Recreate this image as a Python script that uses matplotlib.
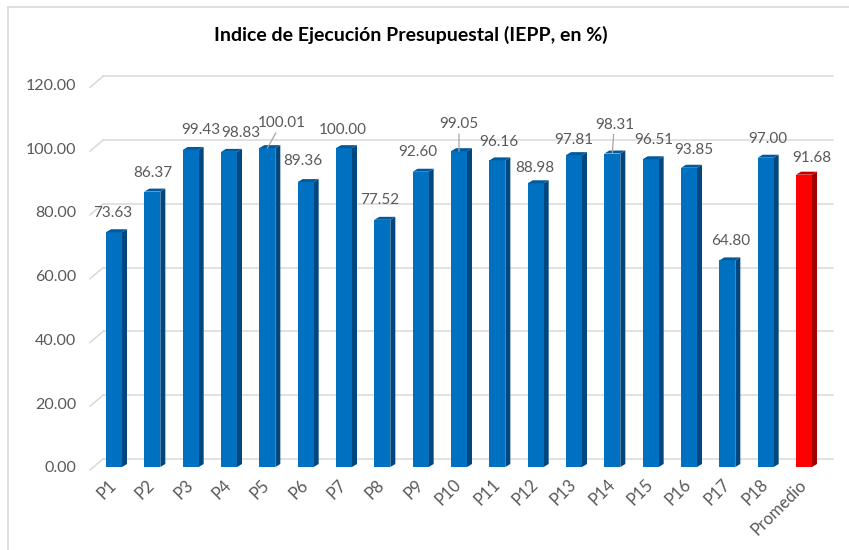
import matplotlib
matplotlib.use("Agg")
import matplotlib.pyplot as plt
from matplotlib.patches import Polygon
from matplotlib.lines import Line2D

plt.rcParams["font.family"] = ["Lato", "DejaVu Sans"]

# --- données ---
categories = ["P1", "P2", "P3", "P4", "P5", "P6", "P7", "P8", "P9", "P10",
              "P11", "P12", "P13", "P14", "P15", "P16", "P17", "P18", "Promedio"]
values = [73.63, 86.37, 99.43, 98.83, 100.01, 89.36, 100.00, 77.52, 92.60, 99.05,
          96.16, 88.98, 97.81, 98.31, 96.51, 93.85, 64.80, 97.00, 91.68]
y_ticks = [0, 20, 40, 60, 80, 100, 120]

# décalage des étiquettes (pixels) : dx, hauteur au-dessus de la barre
label_dx = [-1, 0, 10, 12, 14, -3, -1, -3, -3, 0, 1, -1, 0, 2, 3, 5, 3, 2, 8]
label_dy = [19, 19, 20, 19, 25, 21, 18, 20, 20, 27, 18, 15, 15, 29, 19, 18, 19, 19, 17]
leaders = {"P5", "P10", "P14"}

W, H = 849, 550
fig = plt.figure(figsize=(W / 100, H / 100), dpi=100)

# cadre gris (gauche + haut)
fig.add_artist(Line2D([8 / W, 8 / W], [0, 1 - 7 / H], color="#d9d9d9", lw=1.2))
fig.add_artist(Line2D([8 / W, 1], [1 - 7 / H, 1 - 7 / H], color="#d9d9d9", lw=1.2))

left, right, bottom, top = 90, 833, 467, 78
ax = fig.add_axes([left / W, (H - bottom) / H, (right - left) / W, (bottom - top) / H])

step = 38.33
x0 = -(114 - left) / step
x1 = len(categories) - 1 + (right - 804) / step
ymax = 122
ax.set_xlim(x0, x1)
ax.set_ylim(0, ymax)
ypp = ymax / (bottom - top)   # unités y par pixel
xpp = 1 / step                # unités x par pixel
xb = (103 - 114) / step       # début du mur du fond

# grille 3D (mur du fond + petite diagonale)
for v in y_ticks:
    ax.plot([xb, x1], [v + 8 * ypp, v + 8 * ypp], color="#d9d9d9", lw=1.1,
            clip_on=False, zorder=0)
    ax.plot([x0, xb], [v - 3 * ypp, v + 8 * ypp], color="#d9d9d9", lw=1.1,
            clip_on=False, zorder=0)

# barres pseudo-3D
bw = 0.417
dx, dy = 5 * xpp, 3 * ypp
for i, (cat, v) in enumerate(zip(categories, values)):
    if cat == "Promedio":
        front, side, topc = "#ff0000", "#a50000", "#c00000"
    else:
        front, side, topc = "#0070c0", "#00477f", "#005a9c"
    xl, xr = i - bw / 2, i + bw / 2
    ax.bar(i, v, width=bw, color=front, edgecolor="none", zorder=3)
    ax.add_patch(Polygon([(xr, 0), (xr + dx, dy), (xr + dx, v + dy), (xr, v)],
                         closed=True, color=side, lw=0, zorder=2))
    ax.add_patch(Polygon([(xl, v), (xr, v), (xr + dx, v + dy), (xl + dx, v + dy)],
                         closed=True, color=topc, lw=0, zorder=3))

    arrow = None
    if cat in leaders:
        arrow = dict(arrowstyle="-", color="#a6a6a6", lw=0.9, shrinkA=0, shrinkB=0)
    ax.annotate(f"{v:.2f}", xy=(i, v), xytext=(label_dx[i], label_dy[i]),
                textcoords="offset pixels", ha="center", va="center",
                fontsize=11, color="#595959", arrowprops=arrow, zorder=4)

# axes
ax.set_yticks(y_ticks)
ax.set_yticklabels([f"{t:.2f}" for t in y_ticks], fontsize=11.5, color="#595959")
ax.set_xticks(range(len(categories)))
ax.set_xticklabels(categories, rotation=45, ha="right", va="center",
                   rotation_mode="anchor", fontsize=12, color="#595959")
ax.tick_params(axis="y", length=0, pad=10)
ax.tick_params(axis="x", length=0, pad=11)
for s in ax.spines.values():
    s.set_visible(False)
ax.patch.set_visible(False)

fig.text(411 / W, 1 - 35 / H, "Indice de Ejecución Presupuestal (IEPP, en %)",
         ha="center", va="center", fontsize=14, fontweight="bold", color="black")

fig.savefig("out.png", dpi=100)
